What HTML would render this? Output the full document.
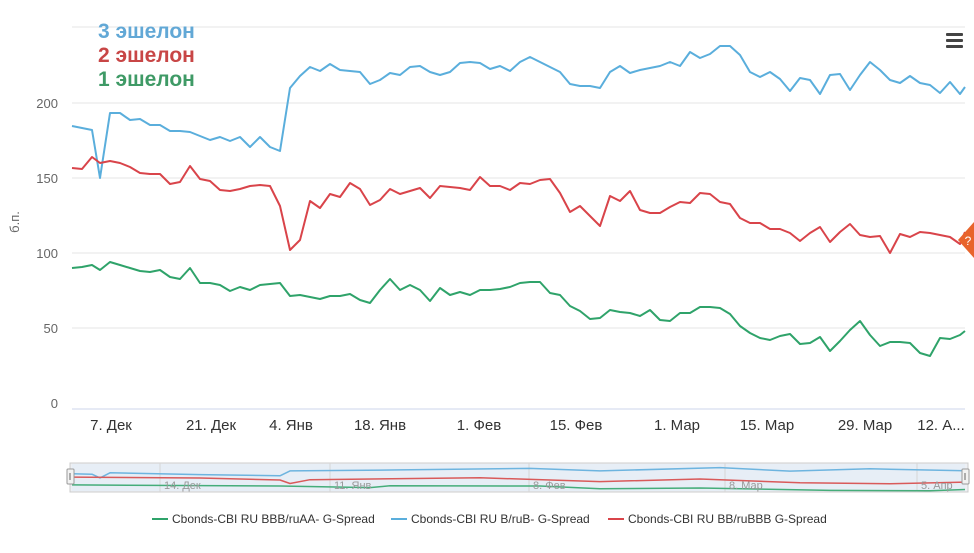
<!DOCTYPE html>
<html><head><meta charset="utf-8"><style>
body{margin:0;background:#fff;}
svg text{font-family:"Liberation Sans",sans-serif;}
</style></head><body>
<svg width="974" height="548" viewBox="0 0 974 548" xmlns="http://www.w3.org/2000/svg">
<g stroke="#e6e6e6" stroke-width="1">
<line x1="72" y1="27" x2="965" y2="27"/>
<line x1="72" y1="103" x2="965" y2="103"/>
<line x1="72" y1="178" x2="965" y2="178"/>
<line x1="72" y1="253" x2="965" y2="253"/>
<line x1="72" y1="328" x2="965" y2="328"/>
</g>
<line x1="72" y1="409" x2="965" y2="409" stroke="#ccd6eb"/>
<g font-size="13" fill="#666" text-anchor="end">
<text x="58" y="108">200</text><text x="58" y="183">150</text><text x="58" y="258">100</text><text x="58" y="333">50</text><text x="58" y="408">0</text>
</g>
<text transform="translate(19,222) rotate(-90)" font-size="13" fill="#666" text-anchor="middle">б.п.</text>
<g font-size="15" fill="#333" text-anchor="middle">
<text x="111" y="430">7. Дек</text><text x="211" y="430">21. Дек</text><text x="291" y="430">4. Янв</text><text x="380" y="430">18. Янв</text><text x="479" y="430">1. Фев</text><text x="576" y="430">15. Фев</text><text x="677" y="430">1. Мар</text><text x="767" y="430">15. Мар</text><text x="865" y="430">29. Мар</text><text x="941" y="430">12. А...</text>
</g>
<g font-size="21" font-weight="bold">
<text x="98" y="38" fill="#62a8d6">3 эшелон</text>
<text x="98" y="62" fill="#c84646">2 эшелон</text>
<text x="98" y="86" fill="#3f9a66">1 эшелон</text>
</g>
<g fill="#444"><rect x="946" y="33" width="17" height="3" rx="1"/><rect x="946" y="39" width="17" height="3" rx="1"/><rect x="946" y="45" width="17" height="3" rx="1"/></g>
<g fill="none" stroke-width="2" stroke-linejoin="round">
<polyline stroke="#5aaedc" points="72,126 82,128 92,130 100,178 110,113 120,113 130,120 140,119 150,125 160,125 170,131 180,131 190,132 200,136 210,140 220,137 230,141 240,137 250,147 260,137 270,147 280,151 290,88 300,76 310,67 320,71 330,64 340,70 350,71 360,72 370,84 380,80 390,73 400,75 410,67 420,66 430,72 440,75 450,72 460,63 470,62 480,63 490,69 500,66 510,71 520,62 530,57 540,62 550,67 560,72 570,84 580,86 590,86 600,88 610,72 620,66 630,73 640,70 650,68 660,66 670,62 680,66 690,52 700,58 710,54 720,46 730,46 740,55 750,72 760,77 770,72 780,79 790,91 800,78 810,80 820,94 830,75 840,74 850,90 860,75 870,62 880,70 890,80 900,83 910,76 920,83 930,85 940,93 950,82 960,94 965,87"/>
<polyline stroke="#d9444a" points="72,168 82,169 92,157 100,163 110,161 120,163 130,167 140,173 150,174 160,174 170,184 180,182 190,166 200,179 210,181 220,190 230,191 240,189 250,186 260,185 270,186 280,206 290,250 300,240 310,201 320,208 330,194 340,197 350,183 360,189 370,205 380,200 390,189 400,194 410,191 420,188 430,198 440,186 450,187 460,188 470,190 480,177 490,186 500,186 510,190 520,183 530,184 540,180 550,179 560,193 570,212 580,206 590,216 600,226 610,196 620,201 630,191 640,210 650,213 660,213 670,207 680,202 690,203 700,193 710,194 720,202 730,204 740,218 750,223 760,223 770,229 780,229 790,233 800,241 810,233 820,227 830,242 840,232 850,224 860,235 870,237 880,236 890,253 900,234 910,237 920,232 930,233 940,235 950,237 960,244 965,232"/>
<polyline stroke="#2fa36a" points="72,268 82,267 92,265 100,270 110,262 120,265 130,268 140,271 150,272 160,270 170,277 180,279 190,268 200,283 210,283 220,285 230,291 240,287 250,290 260,285 270,284 280,283 290,296 300,295 310,297 320,299 330,296 340,296 350,294 360,300 370,303 380,290 390,279 400,290 410,285 420,290 430,301 440,288 450,295 460,292 470,295 480,290 490,290 500,289 510,287 520,283 530,282 540,282 550,293 560,295 570,306 580,311 590,319 600,318 610,310 620,312 630,313 640,316 650,310 660,320 670,321 680,313 690,313 700,307 710,307 720,308 730,314 740,326 750,333 760,338 770,340 780,336 790,334 800,344 810,343 820,337 830,351 840,341 850,330 860,321 870,335 880,346 890,342 900,342 910,343 920,353 930,356 940,338 950,339 960,335 965,331"/>
</g>
<path d="M974,222 L974,258 L958,240 Z" fill="#e8642c"/>
<text x="968" y="245" font-size="12" fill="#fff" text-anchor="middle">?</text>
<rect x="70" y="463" width="898" height="29" fill="#eef0f4" stroke="#ccc"/>
<rect x="72" y="464" width="893" height="27" fill="#e3ecf7" opacity="0.6"/>
<g stroke="#d6d6d6"><line x1="160" y1="463" x2="160" y2="492"/><line x1="330" y1="463" x2="330" y2="492"/><line x1="529" y1="463" x2="529" y2="492"/><line x1="725" y1="463" x2="725" y2="492"/><line x1="917" y1="463" x2="917" y2="492"/></g>
<g fill="none" stroke-width="1.5" stroke-linejoin="round">
<polyline stroke="#6db4df" points="72,473.8 92,474.2 100,477.9 110,472.8 200,474.6 280,475.8 290,470.9 400,469.9 530,468.4 600,470.9 720,467.6 790,471.1 870,468.8 965,470.8"/>
<polyline stroke="#d95a5a" points="72,477.1 200,478 280,480 290,483.5 310,479.7 480,477.8 600,481.6 700,479 800,482.8 890,483.7 965,482.1"/>
<polyline stroke="#45ad7a" points="72,484.9 280,486 370,487.6 390,485.8 540,486 600,488.8 700,488 830,490.4 930,490.8 965,489.5"/>
</g>
<g font-size="11" fill="#999"><text x="164" y="489">14. Дек</text><text x="334" y="489">11. Янв</text><text x="533" y="489">8. Фев</text><text x="729" y="489">8. Мар</text><text x="921" y="489">5. Апр</text></g>
<g fill="#f2f2f2" stroke="#999"><rect x="67" y="469" width="7" height="15" rx="1"/><rect x="962" y="469" width="7" height="15" rx="1"/></g>
<g stroke="#666"><line x1="70" y1="473" x2="70" y2="480"/><line x1="965" y1="473" x2="965" y2="480"/></g>
<g font-size="12" fill="#333">
<line x1="152" y1="519" x2="168" y2="519" stroke="#2fa36a" stroke-width="2"/><text x="172" y="523">Cbonds-CBI RU BBB/ruAA- G-Spread</text>
<line x1="391" y1="519" x2="407" y2="519" stroke="#5aaedc" stroke-width="2"/><text x="411" y="523">Cbonds-CBI RU B/ruB- G-Spread</text>
<line x1="608" y1="519" x2="624" y2="519" stroke="#d9444a" stroke-width="2"/><text x="628" y="523">Cbonds-CBI RU BB/ruBBB G-Spread</text>
</g>
</svg>
</body></html>
